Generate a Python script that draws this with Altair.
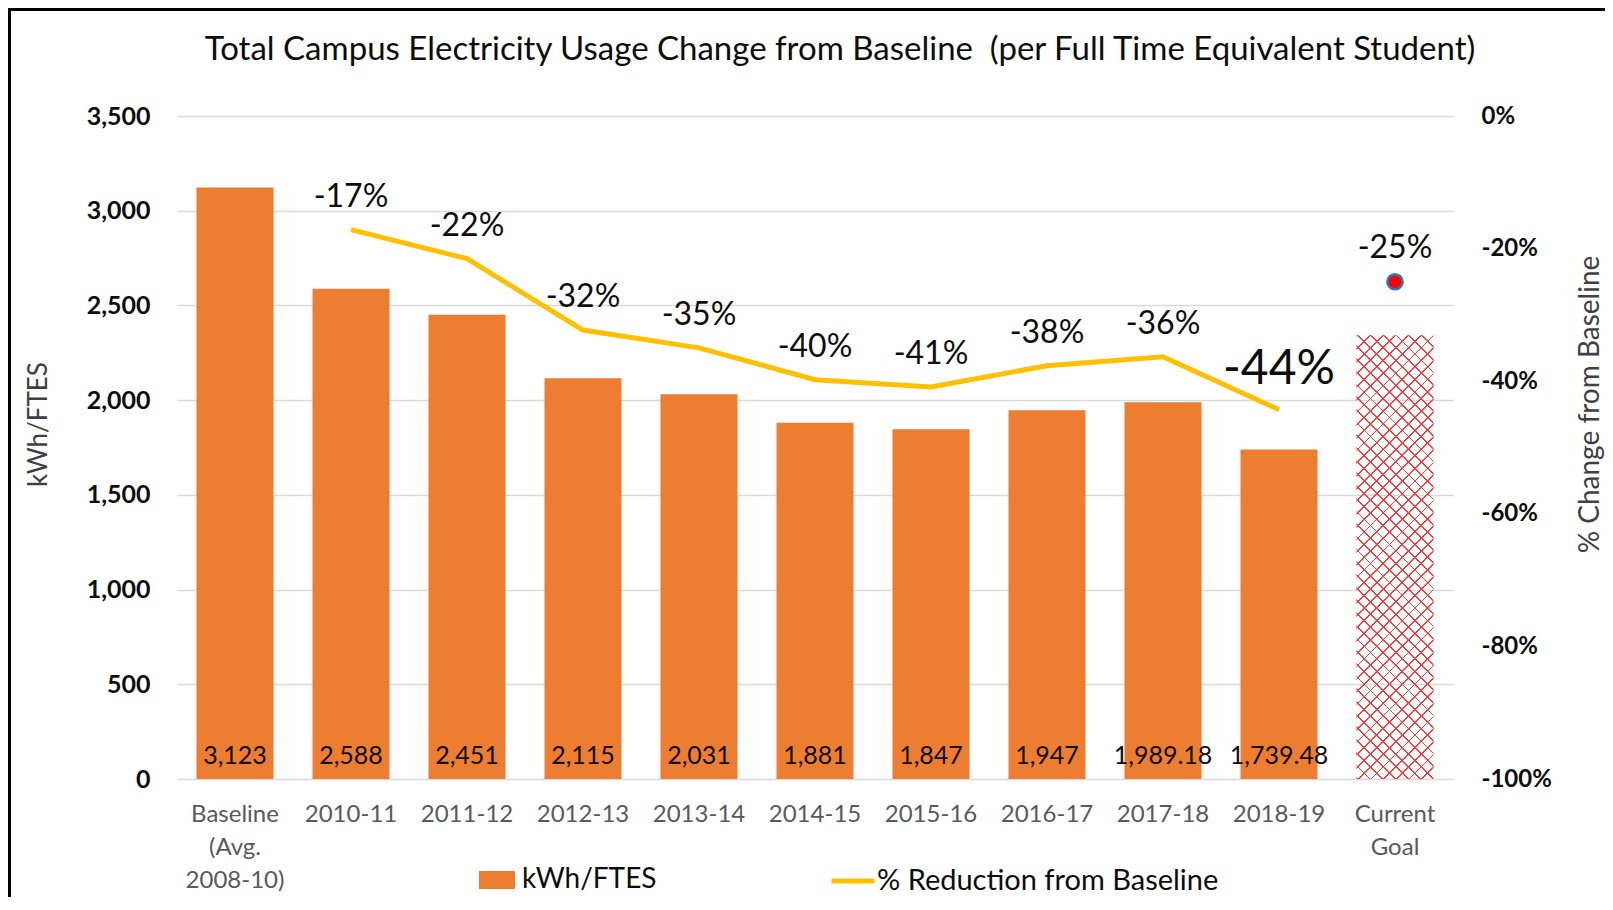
import altair as alt
import pandas as pd

# ---------------- data ----------------
categories = ["Baseline (Avg. 2008-10)", "2010-11", "2011-12", "2012-13", "2013-14",
              "2014-15", "2015-16", "2016-17", "2017-18", "2018-19", "Current Goal"]
bar_categories = categories[:10]
kwh_per_ftes = [3123, 2588, 2451, 2115, 2031, 1881, 1847, 1947, 1989.18, 1739.48]
pct_categories = categories[1:10]
pct_change = [-17.13, -21.52, -32.28, -34.97, -39.77, -40.86, -37.66, -36.31, -44.30]
goal_category = ["Current Goal"]
goal_kwh = [2342]
goal_pct = [-25]
left_ticks = [0, 500, 1000, 1500, 2000, 2500, 3000, 3500]
right_ticks = [-100, -80, -60, -40, -20, 0]

# ---------------- layout / style ----------------
W, H = 1276, 663
PAD_L, PAD_T, PAD_R, PAD_B = 169, 108, 152, 118
FONT = "Lato"
ORANGE = "#ED7D31"
GOLD = "#FFC000"
INK = "#0D0D0D"
BAR_FRAC = 0.664

bars_df = pd.DataFrame({"cat": bar_categories, "kwh": kwh_per_ftes})
line_df = pd.DataFrame({"cat": pct_categories, "pct": pct_change})
goal_df = pd.DataFrame({"cat": goal_category, "kwh": goal_kwh, "pct": goal_pct})

x_enc = alt.X(
    "cat:N", sort=categories, title=None,
    scale=alt.Scale(domain=categories, paddingInner=1 - BAR_FRAC, paddingOuter=(1 - BAR_FRAC) / 2),
    axis=alt.Axis(labelAngle=0, labelFont=FONT, labelFontSize=24, labelColor="#595959",
                  labelLineHeight=33, labelPadding=23, domain=False, ticks=False, grid=False,
                  labelExpr="datum.label == 'Baseline (Avg. 2008-10)' ? ['Baseline', '(Avg.', '2008-10)'] : "
                            "datum.label == 'Current Goal' ? ['Current', 'Goal'] : datum.label"),
)


def y_left(field):
    return alt.Y(
        f"{field}:Q",
        scale=alt.Scale(domain=[0, 3500], nice=False),
        axis=alt.Axis(values=left_ticks, format=",d", labelFont=FONT, labelFontSize=25,
                      labelFontWeight="bold", labelColor=INK, labelPadding=27,
                      domain=False, ticks=False, grid=True, gridColor="#D9D9D9", gridWidth=1.5,
                      title="kWh/FTES", titleFont=FONT, titleFontSize=26, titleFontWeight="normal",
                      titleColor="#404040", titleAngle=270, titleX=-139, titleY=308,
                      titleBaseline="middle", titleAlign="center"),
    )


def y_right(field):
    return alt.Y(
        f"{field}:Q",
        scale=alt.Scale(domain=[-100, 0], nice=False, zero=False),
        axis=alt.Axis(orient="right", values=right_ticks, labelExpr="datum.value + '%'",
                      labelFont=FONT, labelFontSize=24, labelFontWeight="bold", labelColor=INK,
                      labelPadding=28, labelAlign="left", domain=False, ticks=False, grid=False,
                      title="% Change from Baseline", titleFont=FONT, titleFontSize=28,
                      titleFontWeight="normal", titleColor="#404040", titleAngle=270,
                      titleX=137, titleY=288, titleBaseline="middle", titleAlign="center"),
    )


# ---------- hatched goal bar via striped gradients ----------
bw = BAR_FRAC * W / len(categories)
bh = goal_kwh[0] / 3500 * H
k = (bw + bh) / (bw * bw + bh * bh)
dx_n, dy_n = bw * k, bh * k
N_STRIPES = 41
STRIPE = 0.14
RED = "#FF3A3A"
CLEAR = "rgba(255,255,255,0)"


def stripe_stops():
    stops = []
    for i in range(N_STRIPES):
        a = i / N_STRIPES
        b = (i + STRIPE) / N_STRIPES
        c = (i + 1) / N_STRIPES
        stops += [alt.GradientStop(offset=a, color=RED), alt.GradientStop(offset=b, color=RED),
                  alt.GradientStop(offset=b, color=CLEAR), alt.GradientStop(offset=c, color=CLEAR)]
    return stops


grad_a = alt.LinearGradient(gradient="linear", stops=stripe_stops(), x1=0, y1=0, x2=dx_n, y2=dy_n)
grad_b = alt.LinearGradient(gradient="linear", stops=stripe_stops(), x1=0, y1=1, x2=dx_n, y2=1 - dy_n)

# ---------------- left-axis layers ----------------
bars = alt.Chart(bars_df).mark_bar(color=ORANGE).transform_calculate(
    series="'kWh/FTES'"
).encode(
    x=x_enc, y=y_left("kwh"),
    color=alt.Color("series:N", scale=alt.Scale(domain=["kWh/FTES"], range=[ORANGE]),
                    legend=alt.Legend(orient="none", legendX=302, legendY=746, title=None,
                                      symbolType="M-1,-0.5H1V0.5H-1Z", symbolSize=1296,
                                      symbolStrokeWidth=0, labelFont=FONT, labelFontSize=28,
                                      labelColor=INK, labelOffset=7, padding=0, labelLimit=600)),
)

bar_text = alt.Chart(bars_df).transform_calculate(
    zero="0", lbl="format(datum.kwh, ',')"
).mark_text(font=FONT, fontSize=25, color=INK, baseline="middle", dy=-23).encode(
    x=x_enc, y=y_left("zero"), text="lbl:N"
)

goal_a = alt.Chart(goal_df).mark_bar(color=grad_a).encode(x=x_enc, y=y_left("kwh"))
goal_b = alt.Chart(goal_df).mark_bar(color=grad_b).encode(x=x_enc, y=y_left("kwh"))

left = alt.layer(bars, bar_text, goal_a, goal_b)

# ---------------- right-axis layers ----------------
line = alt.Chart(line_df).transform_calculate(
    series="'% Reduction from Baseline'"
).mark_line(strokeWidth=5).encode(
    x=x_enc, y=y_right("pct"),
    stroke=alt.Stroke("series:N", scale=alt.Scale(domain=["% Reduction from Baseline"], range=[GOLD]),
                      legend=alt.Legend(orient="none", legendX=652, legendY=741, title=None,
                                        symbolType="stroke", symbolSize=1849, symbolStrokeWidth=5,
                                        labelFont=FONT, labelFontSize=29, labelColor=INK,
                                        labelOffset=0, padding=0, labelLimit=600)),
)

pct_text = alt.Chart(line_df).transform_filter("datum.cat != '2018-19'").transform_calculate(
    lbl="round(datum.pct) + '%'"
).mark_text(font=FONT, fontSize=32, color=INK, baseline="middle", dy=-33).encode(
    x=x_enc, y=y_right("pct"), text="lbl:N"
)

pct_text_big = alt.Chart(line_df).transform_filter("datum.cat == '2018-19'").transform_calculate(
    lbl="round(datum.pct) + '%'"
).mark_text(font=FONT, fontSize=48, color=INK, baseline="middle", dy=-40).encode(
    x=x_enc, y=y_right("pct"), text="lbl:N"
)

dot = alt.Chart(goal_df).mark_circle(size=230, color="#FF0000", stroke="#2E75B6",
                                     strokeWidth=2.5, opacity=1).encode(x=x_enc, y=y_right("pct"))

dot_text = alt.Chart(goal_df).transform_calculate(
    lbl="round(datum.pct) + '%'"
).mark_text(font=FONT, fontSize=32, color=INK, baseline="middle", dy=-34).encode(
    x=x_enc, y=y_right("pct"), text="lbl:N"
)

right = alt.layer(line, pct_text, pct_text_big, dot, dot_text)

# ---------------- frame ----------------
one = alt.Data(values=[{"f": 1}])
frame_left = alt.Chart(one).mark_rule(color="black", strokeWidth=3).encode(
    x=alt.value(-PAD_L + 1.5), y=alt.value(-PAD_T), y2=alt.value(H + PAD_B)
)
frame_top = alt.Chart(one).mark_rule(color="black", strokeWidth=3).encode(
    x=alt.value(-PAD_L), x2=alt.value(W + PAD_R), y=alt.value(-PAD_T + 1.5)
)

chart = alt.layer(left, right, frame_left, frame_top).resolve_scale(
    y="independent", color="independent", stroke="independent"
).properties(
    width=W, height=H,
    autosize=alt.AutoSizeParams(type="none"),
    padding={"left": PAD_L, "top": PAD_T, "right": PAD_R, "bottom": PAD_B},
    title=alt.TitleParams(
        text="Total Campus Electricity Usage Change from Baseline \u00a0(per Full Time Equivalent Student)",
        font=FONT, fontSize=33, fontWeight="normal", color=INK, anchor="middle", dx=25, offset=-60),
    background="white",
).configure_view(stroke=None)

chart.save("out.html", embed_options={"renderer": "svg", "actions": False})
